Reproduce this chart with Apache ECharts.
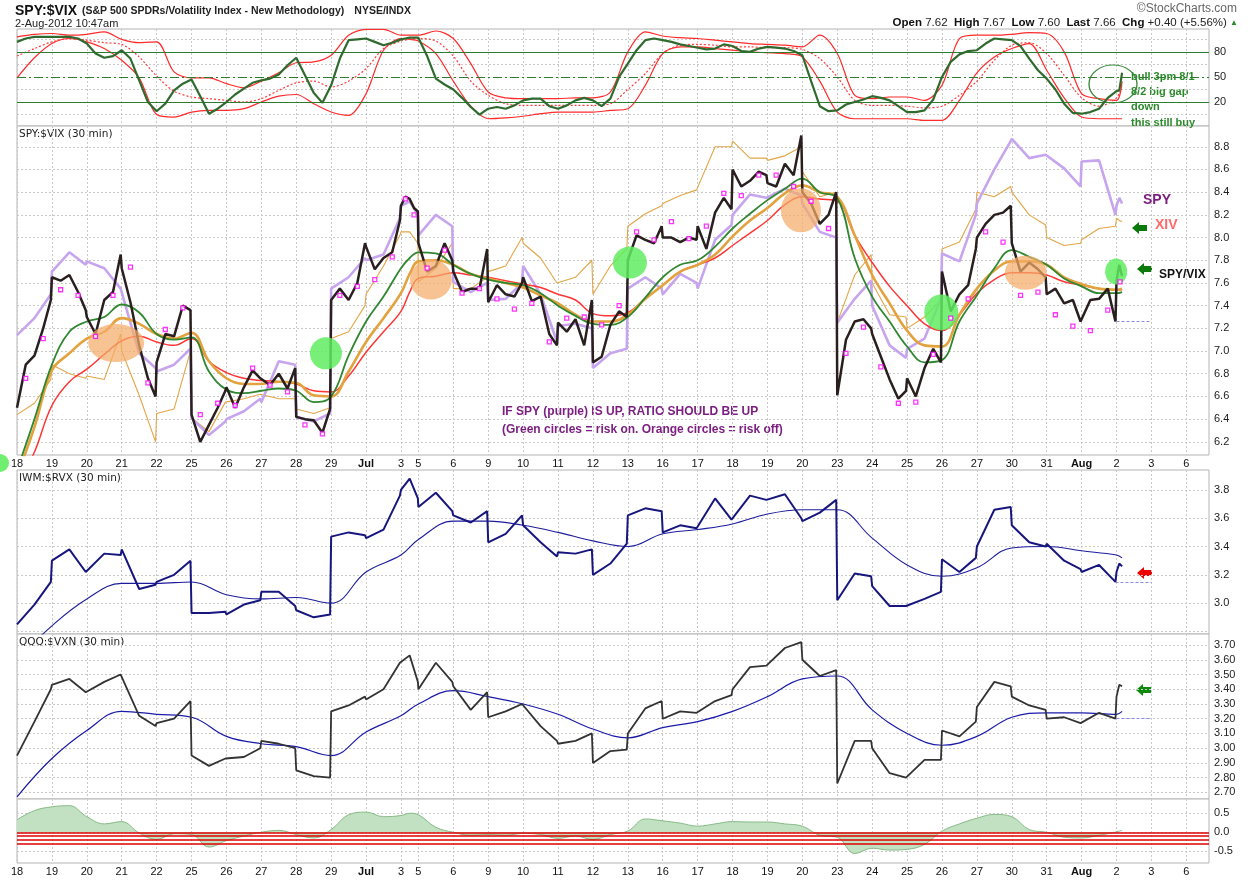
<!DOCTYPE html>
<html>
<head>
<meta charset="utf-8">
<title>SPY:$VIX 30 min</title>
<script src="https://cdn.jsdelivr.net/npm/echarts@6/dist/echarts.min.js"></script>
<style>html,body{margin:0;padding:0;background:#fff;}</style>
</head>
<body>
<div id="main" style="width:1250px;height:880px;"></div>
<script type="text/javascript">

/* trading days shown on the time axis (Jul 3 is a half day) */
var dayLabels = ['18','19','20','21','22','25','26','27','28','29','Jul','3','5','6','9','10','11','12','13',
                 '16','17','18','19','20','23','24','25','26','27','30','31','Aug','2','3','6'];
var halfDay = 11;

/* top panel: oscillator (4 per day) and its bands (2 per day) */
var oscValues = [92,96,98,98, 98,98,98,96, 90,78,73,75, 82,72,46,20, 9,18,34,42, 47,27,6,12, 20,29,36,43,
  46,48,53,64, 73,52,31,19, 40,72,94,95, 96,92,88,91, 95,96,97,97, 97,75,48,41, 35,25,14,5, 12,14,12,16,
  22,24,24,15, 12,16,22,25, 22,15,24,50, 66,82,94,96, 94,92,89,87, 85,83,84,89, 87,81,80,84, 86,85,84,81,
  76,45,15,9, 10,17,20,23, 27,25,22,15, 8,8,10,23, 50,68,77,81, 82,90,96,95, 94,87,72,58, 48,35,18,7,
  6,8,12,25, 33,34,55];
var oscUpper = [98,101, 102,100, 101,104, 95,91, 92,56, 49,49, 42,37, 45,55, 67,68, 76,100, 107,107, 100,100,
  100,105, 96,66, 32,25, 24,24, 24,25, 25,32, 80,104, 99,97, 96,94, 92,90, 89,88, 86,100, 78,28, 24,26,
  26,22, 40,96, 100,100, 101,103, 102,80, 30,24, 22,45];
var oscLower = [49,73, 90,96, 92,84, 70,49, 5,2, 8,10, 10,12, 20,27, 29,18, 8,4, 30,82, 96,95,
  93,78, 45,15, 0,1, 3,6, 8,8, 8,10, 12,40, 78,86, 86,84, 82,80, 79,78, 74,45, 8,0, 0,0,
  0,-2, -2,22, 55,74, 84,90, 58,25, 2,0, 0,0];
var oscMiddle = [75,84, 92,96, 94,91, 89,74, 51,33, 26,24, 22,20, 24,34, 43,45, 38,45, 60,84, 93,95,
  96,93, 75,45, 28,18, 16,16, 16,16, 16,18, 35,54, 78,88, 89,88, 86,86, 85,85, 83,72, 50,22, 16,16,
  15,13, 15,28, 45,70, 88,91, 78,52, 25,15, 25,40];

/* main panel: SPY:$VIX 30 min (5 per day) */
var ratioValues = [6.5,6.88,6.96,7.2,7.45, 7.65,7.62,7.67,7.52,7.36, 7.3,7.15,7.45,7.52,7.85, 7.73,7.43,7.05,6.76,6.6,
  6.9,7.15,7.13,7.4,7.36, 6.44,6.2,6.35,6.5,6.65, 6.68,6.5,6.68,6.83,6.76, 6.76,6.7,6.8,6.67,6.85,
  6.42,6.4,6.39,6.28,6.49, 7.45,7.55,7.45,7.6,7.95, 7.92,7.72,7.82,7.87,8.15, 8.28,8.36,8.34,8.26,8.23,
  7.95,7.7,7.75,7.95,7.8, 7.7,7.52,7.55,7.55,7.9, 7.43,7.58,7.5,7.48,7.6, 7.65,7.44,7.48,7.15,7.05,
  7.25,7.17,7.28,7.05,7.45, 6.9,6.95,7.23,7.35,7.3, 7.8,8.02,7.98,7.95,8.1, 8.0,8.0,7.96,8.0,7.98,
  8.1,7.9,8.22,8.35,8.25, 8.6,8.45,8.5,8.58,8.55, 8.48,8.45,8.65,8.55,8.9, 8.4,8.3,8.12,8.2,8.4,
  6.61,7.1,7.26,7.28,7.2, 7.15,6.95,6.75,6.58,6.65, 6.76,6.6,6.85,7.02,6.9, 7.7,7.35,7.5,7.58,7.9,
  8.0,8.12,8.2,8.22,8.28, 7.95,7.7,7.78,7.72,7.65, 7.5,7.55,7.42,7.45,7.26, 7.25,7.45,7.46,7.55,7.26,
  7.62,7.76,7.66];
/* SPY and XIV overlays, drawn in the panel's scale (3 per day) */
var spyValues = [7.14,7.29,7.5, 7.7,7.87,7.76, 7.79,7.73,7.55, 7.55,6.98,6.85, 6.82,6.88,7.02, 6.41,6.26,6.38,
  6.4,6.47,6.58, 6.55,6.91,6.88, 6.42,6.38,6.45, 7.55,7.65,7.82, 7.8,7.85,8.17, 8.28,8.32,8.2,
  8.02,8.2,8.1, 7.61,7.52,7.6, 7.45,7.46,7.6, 7.75,7.5,7.08, 7.22,7.24,7.2, 6.85,6.98,7.02,
  7.55,7.65,7.55, 7.5,7.68,7.6, 7.55,7.98,8.11, 8.2,8.38,8.35, 8.35,8.43,8.37, 8.3,8.05,8.0,
  7.25,7.46,7.62, 7.4,7.05,6.94, 7.02,7.11,7.46, 7.86,7.79,8.2, 8.3,8.6,8.85, 8.87,8.7,8.73,
  8.72,8.61,8.45, 8.67,8.68,8.2, 8.28,8.35,8.3];
var xivValues = [6.44,6.54,6.75, 6.88,6.8,6.76, 6.78,6.75,7.15, 7.0,6.61,6.2, 6.45,6.49,7.0, 6.41,6.29,6.55,
  6.55,6.58,6.62, 6.62,6.58,6.58, 6.49,6.45,6.5, 7.11,7.17,7.4, 7.5,7.75,8.02, 8.05,8.05,7.95,
  7.61,7.73,7.95, 7.55,7.55,7.65, 7.7,7.75,8.0, 7.95,7.82,7.6, 7.6,7.65,7.8, 7.5,7.75,7.9,
  8.1,8.21,8.28, 8.3,8.37,8.42, 8.42,8.8,8.8, 8.85,8.7,8.7, 8.68,8.72,8.8, 8.58,8.36,8.4,
  7.25,7.67,7.85, 7.6,7.32,7.3, 7.2,7.3,7.45, 7.9,7.96,8.25, 8.4,8.36,8.45, 8.4,8.2,8.11,
  8.0,7.93,7.95, 7.98,8.08,8.1, 8.17,8.15,8.14];
/* magenta dots (2 per day) */
var dotValues = [6.76,7.11, 7.54,7.49, 7.13,7.49, 7.74,6.72, 7.19,7.38, 6.44,6.54, 6.52,6.85, 6.7,6.64,
  6.35,6.27, 7.49,7.57, 7.63,7.83, 8.34,8.2, 7.73,7.89, 7.51,7.55, 7.46,7.37, 7.42,7.08, 7.29,7.3,
  7.23,7.4, 8.05,7.98, 8.14,7.99, 8.1,8.39, 8.37,8.55, 8.55,8.45, 8.32,8.08, 6.98,7.21, 6.86,6.54,
  6.55,6.97, 7.29,7.46, 8.05,7.96, 7.49,7.52, 7.32,7.22, 7.18,7.36, 7.61];
/* moving averages of the ratio (2 per day) */
var maFast = [5.95,6.4, 6.88,7.17, 7.26,7.3, 7.41,7.34, 7.15,7.1, 7.12,6.82, 6.66,6.63, 6.65,6.67, 6.65,6.55,
  6.6,6.96, 7.26,7.48, 7.73,7.82, 7.87,7.86, 7.76,7.68, 7.63,7.6, 7.58,7.51, 7.4,7.31, 7.24,7.23,
  7.3,7.47, 7.65,7.76, 7.8,7.92, 8.08,8.21, 8.33,8.43, 8.52,8.4, 8.35,7.82, 7.48,7.26, 7.04,6.9,
  6.92,7.26, 7.49,7.73, 7.89,7.83, 7.76,7.64, 7.57,7.51, 7.51,7.52];
var maMid = [5.9,6.33, 6.83,6.98, 7.11,7.17, 7.29,7.24, 7.15,7.11, 7.16,6.91, 6.76,6.71, 6.71,6.73, 6.72,6.61,
  6.6,6.82, 7.08,7.29, 7.51,7.68, 7.79,7.8, 7.76,7.68, 7.64,7.6, 7.56,7.49, 7.42,7.32, 7.26,7.26,
  7.32,7.46, 7.58,7.7, 7.76,7.85, 8.01,8.15, 8.26,8.39, 8.46,8.4, 8.36,8.02, 7.67,7.42, 7.18,7.05,
  7.04,7.32, 7.55,7.71, 7.79,7.79, 7.76,7.65, 7.59,7.55, 7.54,7.55];
var maSlow = [5.8,6.11, 6.52,6.73, 6.84,6.97, 7.09,7.13, 7.08,7.05, 7.11,6.91, 6.81,6.76, 6.74,6.73, 6.71,6.65,
  6.64,6.78, 6.99,7.17, 7.35,7.52, 7.64,7.66, 7.69,7.67, 7.65,7.62, 7.59,7.56, 7.5,7.45, 7.33,7.31,
  7.34,7.46, 7.58,7.7, 7.76,7.82, 7.93,8.04, 8.15,8.29, 8.36,8.34, 8.32,8.02, 7.78,7.57, 7.4,7.24,
  7.18,7.32, 7.51,7.63, 7.69,7.69, 7.67,7.61, 7.58,7.55, 7.54,7.54];

/* IWM:$RVX (3 per day) and its average (1 per day) */
var iwmValues = [2.85,2.99,3.15, 3.3,3.38,3.22, 3.21,3.35,3.34, 3.38,3.1,3.13, 3.15,3.2,3.3, 2.93,2.93,2.94,
  2.92,2.99,3.02, 3.08,3.08,2.98, 2.95,2.9,2.92, 3.47,3.5,3.48, 3.46,3.52,3.76, 3.8,3.88,3.74,
  3.68,3.78,3.65, 3.62,3.57,3.65, 3.43,3.49,3.62, 3.55,3.43,3.33, 3.36,3.35,3.38, 3.2,3.28,3.42,
  3.62,3.67,3.65, 3.5,3.55,3.53, 3.53,3.74,3.59, 3.58,3.76,3.73, 3.74,3.77,3.6, 3.58,3.64,3.73,
  3.02,3.21,3.19, 3.12,2.98,2.98, 2.98,3.03,3.08, 3.31,3.22,3.32, 3.4,3.66,3.68, 3.55,3.43,3.4,
  3.42,3.3,3.24, 3.22,3.27,3.15, 3.22,3.28,3.26];
var iwmAvg = [2.6,2.84,3.03,3.14,3.14,3.15,3.06,3.03,3.04,3.0,3.22,3.34,3.45,3.58,3.58,3.55,3.5,3.44,3.4,
  3.49,3.52,3.56,3.63,3.66,3.66,3.46,3.27,3.19,3.25,3.39,3.4,3.37,3.34,3.32];

/* QQQ:$VXN (3 per day) and its average (1 per day) */
var qqqValues = [2.95,3.18,3.4, 3.43,3.47,3.38, 3.39,3.45,3.5, 3.49,3.22,3.15, 3.17,3.2,3.32, 2.95,2.88,2.93,
  2.93,2.94,3.0, 3.05,3.03,3.0, 2.85,2.81,2.8, 3.25,3.29,3.35, 3.33,3.4,3.58, 3.58,3.63,3.45,
  3.4,3.58,3.45, 3.42,3.26,3.38, 3.21,3.25,3.3, 3.3,3.15,3.05, 3.03,3.05,3.1, 2.9,2.98,2.99,
  3.1,3.27,3.32, 3.2,3.25,3.24, 3.24,3.32,3.36, 3.4,3.55,3.56, 3.56,3.68,3.72, 3.6,3.49,3.53,
  2.76,3.05,3.05, 3.0,2.83,2.8, 2.8,2.92,2.92, 3.12,3.08,3.18, 3.28,3.45,3.42, 3.35,3.29,3.26,
  3.2,3.21,3.17, 3.16,3.24,3.2, 3.35,3.43,3.42];
var qqqAvg = [2.67,2.93,3.12,3.25,3.23,3.21,3.08,3.03,3.01,2.95,3.11,3.22,3.3,3.39,3.35,3.3,3.23,3.13,3.07,
  3.14,3.18,3.25,3.35,3.47,3.49,3.26,3.1,3.02,3.08,3.21,3.24,3.24,3.23,3.25];

/* bottom histogram (2 per day) */
var histValues = [0.33,0.57, 0.67,0.7, 0.41,0.22, 0.28,-0.02, -0.19,-0.04, -0.06,-0.39, -0.22,-0.1, 0,0.05,
  -0.06,-0.15, 0.07,0.46, 0.53,0.41, 0.44,0.5, 0.46,0.13, 0,-0.08, -0.06,-0.08, -0.03,-0.06, -0.16,-0.1,
  -0.19,-0.06, 0.03,0.35, 0.3,0.24, 0.16,0.22, 0.28,0.27, 0.27,0.22, 0.16,-0.08, -0.13,-0.56, -0.42,-0.47,
  -0.45,-0.32, 0.03,0.22, 0.37,0.47, 0.41,0.07, 0,-0.13, -0.15,-0.08, 0.01,0.05];

/* last close markers */
var lastClose = {ratio: 7.26, iwm: 3.15, qqq: 3.20};

/* ---------- time grid ---------- */
var dayStart = [];
(function () {
    var t = 0;
    for (var i = 0; i < dayLabels.length; i++) { dayStart.push(t); t += (i === halfDay ? 0.5 : 1); }
})();

function onGrid(values, fracs, lastFracs) {
    var out = [], k = 0;
    for (var d = 0; d < 32; d++) {
        var len = d === halfDay ? 0.5 : 1;
        for (var j = 0; j < fracs.length; j++) out.push([dayStart[d] + fracs[j] * len, values[k++]]);
    }
    for (var m = 0; m < lastFracs.length; m++) out.push([dayStart[32] + lastFracs[m], values[k++]]);
    return out;
}

function dayFmt(v) {
    for (var i = 0; i < dayStart.length; i++) {
        if (Math.abs(dayStart[i] - v) < 0.01) {
            var s = dayLabels[i];
            return (s === 'Jul' || s === 'Aug') ? '{b|' + s + '}' : s;
        }
    }
    return '';
}

function range(a, b, step) {
    var r = [];
    for (var v = a; v <= b + 1e-9; v += step) r.push(Math.round(v * 1000) / 1000);
    return r;
}

var gridLine = {show: true, lineStyle: {color: '#c9c9c9', width: 1, type: [2, 2]}};
var lblFont = 'Liberation Sans';

function xAx(i, showLabels) {
    return {
        type: 'value', gridIndex: i, min: 0, max: 34.15,
        axisLine: {show: false},
        axisTick: {show: false, customValues: dayStart},
        splitLine: gridLine,
        axisLabel: {
            show: showLabels, customValues: dayStart, formatter: dayFmt, margin: 3,
            color: '#111', fontSize: 11, fontFamily: lblFont,
            rich: {b: {fontWeight: 'bold', fontSize: 11, color: '#111', fontFamily: lblFont}}
        }
    };
}

function yAx(i, min, max, ticks, labels, dec) {
    return {
        type: 'value', gridIndex: i, position: 'right', min: min, max: max,
        axisLine: {show: false},
        axisTick: {show: false, customValues: ticks},
        splitLine: gridLine,
        axisLabel: {
            customValues: labels, margin: 5, color: '#222', fontSize: 11, fontFamily: lblFont,
            formatter: function (v) { return v.toFixed(dec); }
        }
    };
}

function gridBox(top, height) {
    return {left: 17, right: 41, top: top, height: height, show: true,
            borderColor: '#b4b4b4', borderWidth: 1, backgroundColor: '#fff'};
}

function line(xi, data, color, width, extra) {
    var s = {type: 'line', xAxisIndex: xi, yAxisIndex: xi, data: data, showSymbol: false,
             symbol: 'none', silent: true, animation: false, clip: true,
             lineStyle: {color: color, width: width}};
    if (extra) for (var k in extra) s[k] = extra[k];
    return s;
}

function closeLine(t0, v) {
    return {silent: true, symbol: 'none', label: {show: false},
            lineStyle: {color: '#8c8ce0', type: [3, 2], width: 1},
            data: [[{coord: [t0, v]}, {coord: [32.5, v]}]]};
}

function blob(t, v, w, h, color) {
    return {coord: [t, v], symbol: 'circle', symbolSize: [w, h], itemStyle: {color: color}};
}

var orangeBlob = 'rgba(244,172,104,0.72)';
var greenBlob = 'rgba(96,236,96,0.85)';

function arrow(x, y, color) {
    return {type: 'polygon', x: x, y: y, silent: true,
            shape: {points: [[0, 6], [7, 0], [7, 3], [15, 3], [15, 9], [7, 9], [7, 12]]},
            style: {fill: color}};
}

function txt(x, y, text, font, color) {
    return {type: 'text', x: x, y: y, silent: true,
            style: {text: text, font: font, fill: color, textVerticalAlign: 'middle'}};
}

var chart = echarts.init(document.getElementById('main'), null, {renderer: 'canvas'});

chart.setOption({
    animation: false,
    backgroundColor: '#fff',
    title: [
        {left: 15, top: 2, padding: 0,
         text: '{t|SPY:$VIX} {s|(S&P 500 SPDRs/Volatility Index - New Methodology)}  {s|NYSE/INDX}',
         textStyle: {rich: {
             t: {fontFamily: lblFont, fontWeight: 'bold', fontSize: 14, color: '#111'},
             s: {fontFamily: lblFont, fontSize: 10.5, color: '#222'}}}},
        {left: 15, top: 18, padding: 0, text: '2-Aug-2012 10:47am',
         textStyle: {fontFamily: lblFont, fontSize: 11, fontWeight: 'normal', color: '#222'}},
        {right: 13, top: 3, padding: 0, text: '\u00a9StockCharts.com',
         textStyle: {fontFamily: lblFont, fontSize: 12, fontWeight: 'normal', color: '#666'}},
        {right: 12, top: 17, padding: 0,
         text: '{b|Open} 7.62  {b|High} 7.67  {b|Low} 7.60  {b|Last} 7.66  {b|Chg} +0.40 (+5.56%) {g|\u25b2}',
         textStyle: {fontFamily: lblFont, fontSize: 11.5, fontWeight: 'normal', color: '#222',
             rich: {b: {fontFamily: lblFont, fontSize: 11.5, fontWeight: 'bold', color: '#111'},
                    g: {fontSize: 8, color: '#2a8a2a'}}}}
    ],
    grid: [gridBox(29, 97), gridBox(126, 329), gridBox(470, 164), gridBox(634, 165), gridBox(799, 64)],
    xAxis: [xAx(0, false), xAx(1, true), xAx(2, false), xAx(3, false), xAx(4, true)],
    yAxis: [
        yAx(0, -8.7, 107.4, [5, 35, 65, 95], [20, 50, 80], 0),
        yAx(1, 6.084, 8.983, range(6.2, 8.8, 0.2), range(6.2, 8.8, 0.2), 1),
        yAx(2, 2.782, 3.941, range(2.8, 3.8, 0.2), range(3.0, 3.8, 0.2), 1),
        yAx(3, 2.655, 3.775, range(2.7, 3.7, 0.1), range(2.7, 3.7, 0.1), 2),
        yAx(4, -0.81, 0.876, [-0.5, 0, 0.5], [-0.5, 0, 0.5], 1)
    ],
    series: [
        /* oscillator panel */
        line(0, onGrid(oscUpper, [0, 0.5], [0, 0.16]), '#ff2a2a', 1.2, {smooth: 0.3}),
        line(0, onGrid(oscLower, [0, 0.5], [0, 0.16]), '#ff2a2a', 1.2, {smooth: 0.3}),
        line(0, onGrid(oscMiddle, [0, 0.5], [0, 0.16]), '#ff3a3a', 1.2,
             {smooth: 0.3, lineStyle: {color: '#ff3a3a', width: 1.2, type: [2, 2]}}),
        line(0, onGrid(oscValues, [0, 0.25, 0.5, 0.75], [0, 0.08, 0.16]), '#2f6b2f', 2.2, {
            z: 5,
            markLine: {silent: true, symbol: 'none', label: {show: false},
                data: [
                    {yAxis: 80, lineStyle: {color: '#2e7d2e', width: 1.2, type: 'solid'}},
                    {yAxis: 20, lineStyle: {color: '#2e7d2e', width: 1.2, type: 'solid'}},
                    {yAxis: 50, lineStyle: {color: '#2e7d2e', width: 1.2, type: [9, 3, 2, 3]}}
                ]},
            markPoint: {silent: true, label: {show: false},
                data: [{coord: [31.4, 41.5], symbol: 'circle', symbolSize: [48, 38],
                        itemStyle: {color: 'rgba(0,0,0,0)', borderColor: '#3a8a3a', borderWidth: 1.2}}]}
        }),

        /* main ratio panel */
        line(1, onGrid(xivValues, [0, 0.5, 0.97], [0, 0.08, 0.16]), '#e3a546', 1.1),
        line(1, onGrid(spyValues, [0, 0.5, 0.97], [0, 0.08, 0.16]), '#c6a5ee', 2.6),
        line(1, onGrid(maSlow, [0, 0.5], [0, 0.16]), '#ff3535', 1.5, {smooth: 0.4}),
        line(1, onGrid(maMid, [0, 0.5], [0, 0.16]), '#e2a23e', 2.6, {smooth: 0.4}),
        line(1, onGrid(maFast, [0, 0.5], [0, 0.16]), '#2f872f', 1.8, {smooth: 0.4}),
        line(1, onGrid(ratioValues, [0, 0.25, 0.5, 0.75, 0.97], [0, 0.08, 0.16]), '#2a1f1f', 2.5, {
            z: 4,
            markLine: closeLine(31.5, lastClose.ratio),
            markPoint: {silent: true, label: {show: false}, z: 6,
                data: [
                    blob(2.84, 7.07, 56, 38, orangeBlob),
                    blob(11.86, 7.63, 42, 40, orangeBlob),
                    blob(22.46, 8.24, 40, 44, orangeBlob),
                    blob(28.9, 7.69, 42, 34, orangeBlob),
                    blob(8.85, 6.98, 32, 32, greenBlob),
                    blob(17.56, 7.78, 34, 32, greenBlob),
                    blob(26.48, 7.34, 34, 36, greenBlob),
                    blob(31.49, 7.70, 22, 26, greenBlob)
                ]}
        }),
        {type: 'scatter', xAxisIndex: 1, yAxisIndex: 1, silent: true, animation: false, z: 7,
         data: onGrid(dotValues, [0.25, 0.75], [0.1]), symbol: 'rect', symbolSize: 4,
         itemStyle: {color: '#ffffff', borderColor: '#ff00ff', borderWidth: 1.3}},

        /* IWM panel */
        line(2, onGrid(iwmAvg, [0], [0, 0.16]), '#1d1d9c', 1.1, {smooth: 0.4}),
        line(2, onGrid(iwmValues, [0, 0.5, 0.97], [0, 0.08, 0.16]), '#16167e', 2, {
            markLine: closeLine(31.47, lastClose.iwm)}),

        /* QQQ panel */
        line(3, onGrid(qqqAvg, [0], [0, 0.16]), '#1b1baa', 1.2, {smooth: 0.4}),
        line(3, onGrid(qqqValues, [0, 0.5, 0.97], [0, 0.08, 0.16]), '#333333', 1.8, {
            markLine: closeLine(31.5, lastClose.qqq)}),

        /* histogram panel */
        line(4, onGrid(histValues, [0, 0.5], [0, 0.16]), '#86bb86', 1, {
            smooth: 0.4,
            areaStyle: {color: '#c2e0c2', opacity: 1},
            markLine: {silent: true, symbol: 'none', label: {show: false},
                lineStyle: {color: '#e00000', width: 1.6, type: 'solid'},
                data: [{yAxis: 0}, {yAxis: -0.1}, {yAxis: -0.2}, {yAxis: -0.3}]}
        })
    ],
    graphic: [
        txt(19, 134, 'SPY:$VIX (30 min)', '10.5px DejaVu Sans', '#222'),
        txt(19, 478, 'IWM:$RVX (30 min)', '10.5px DejaVu Sans', '#222'),
        txt(19, 642, 'QQQ:$VXN (30 min)', '10.5px DejaVu Sans', '#222'),
        txt(502, 412, 'IF SPY (purple) IS UP, RATIO SHOULD BE UP', 'bold 12px Liberation Sans Narrow, Liberation Sans', '#7d1f82'),
        txt(502, 430, '(Green circles = risk on. Orange circles = risk off)', 'bold 12px Liberation Sans Narrow, Liberation Sans', '#7d1f82'),
        txt(1143, 200, 'SPY', 'bold 14px Liberation Sans', '#7d1f82'),
        txt(1155, 225, 'XIV', 'bold 14px Liberation Sans', '#ff6a6a'),
        txt(1159, 275, 'SPY/VIX', 'bold 12px Liberation Sans Narrow, Liberation Sans', '#111'),
        txt(1131, 77, 'bull 3pm 8/1', 'bold 11px Liberation Sans', '#2a8a2a'),
        txt(1131, 92, '8/2 big gap', 'bold 11px Liberation Sans', '#2a8a2a'),
        txt(1131, 107, 'down', 'bold 11px Liberation Sans', '#2a8a2a'),
        txt(1131, 123, 'this still buy', 'bold 11px Liberation Sans', '#2a8a2a'),
        arrow(1132, 222, '#0b7a0b'),
        arrow(1137, 263, '#0b7a0b'),
        arrow(1137, 567, '#ee0000'),
        arrow(1136, 684, '#0b8a0b'),
        {type: 'circle', silent: true, shape: {cx: 0, cy: 463, r: 9}, style: {fill: '#70ee70'}}
    ]
});

</script>
</body>
</html>
